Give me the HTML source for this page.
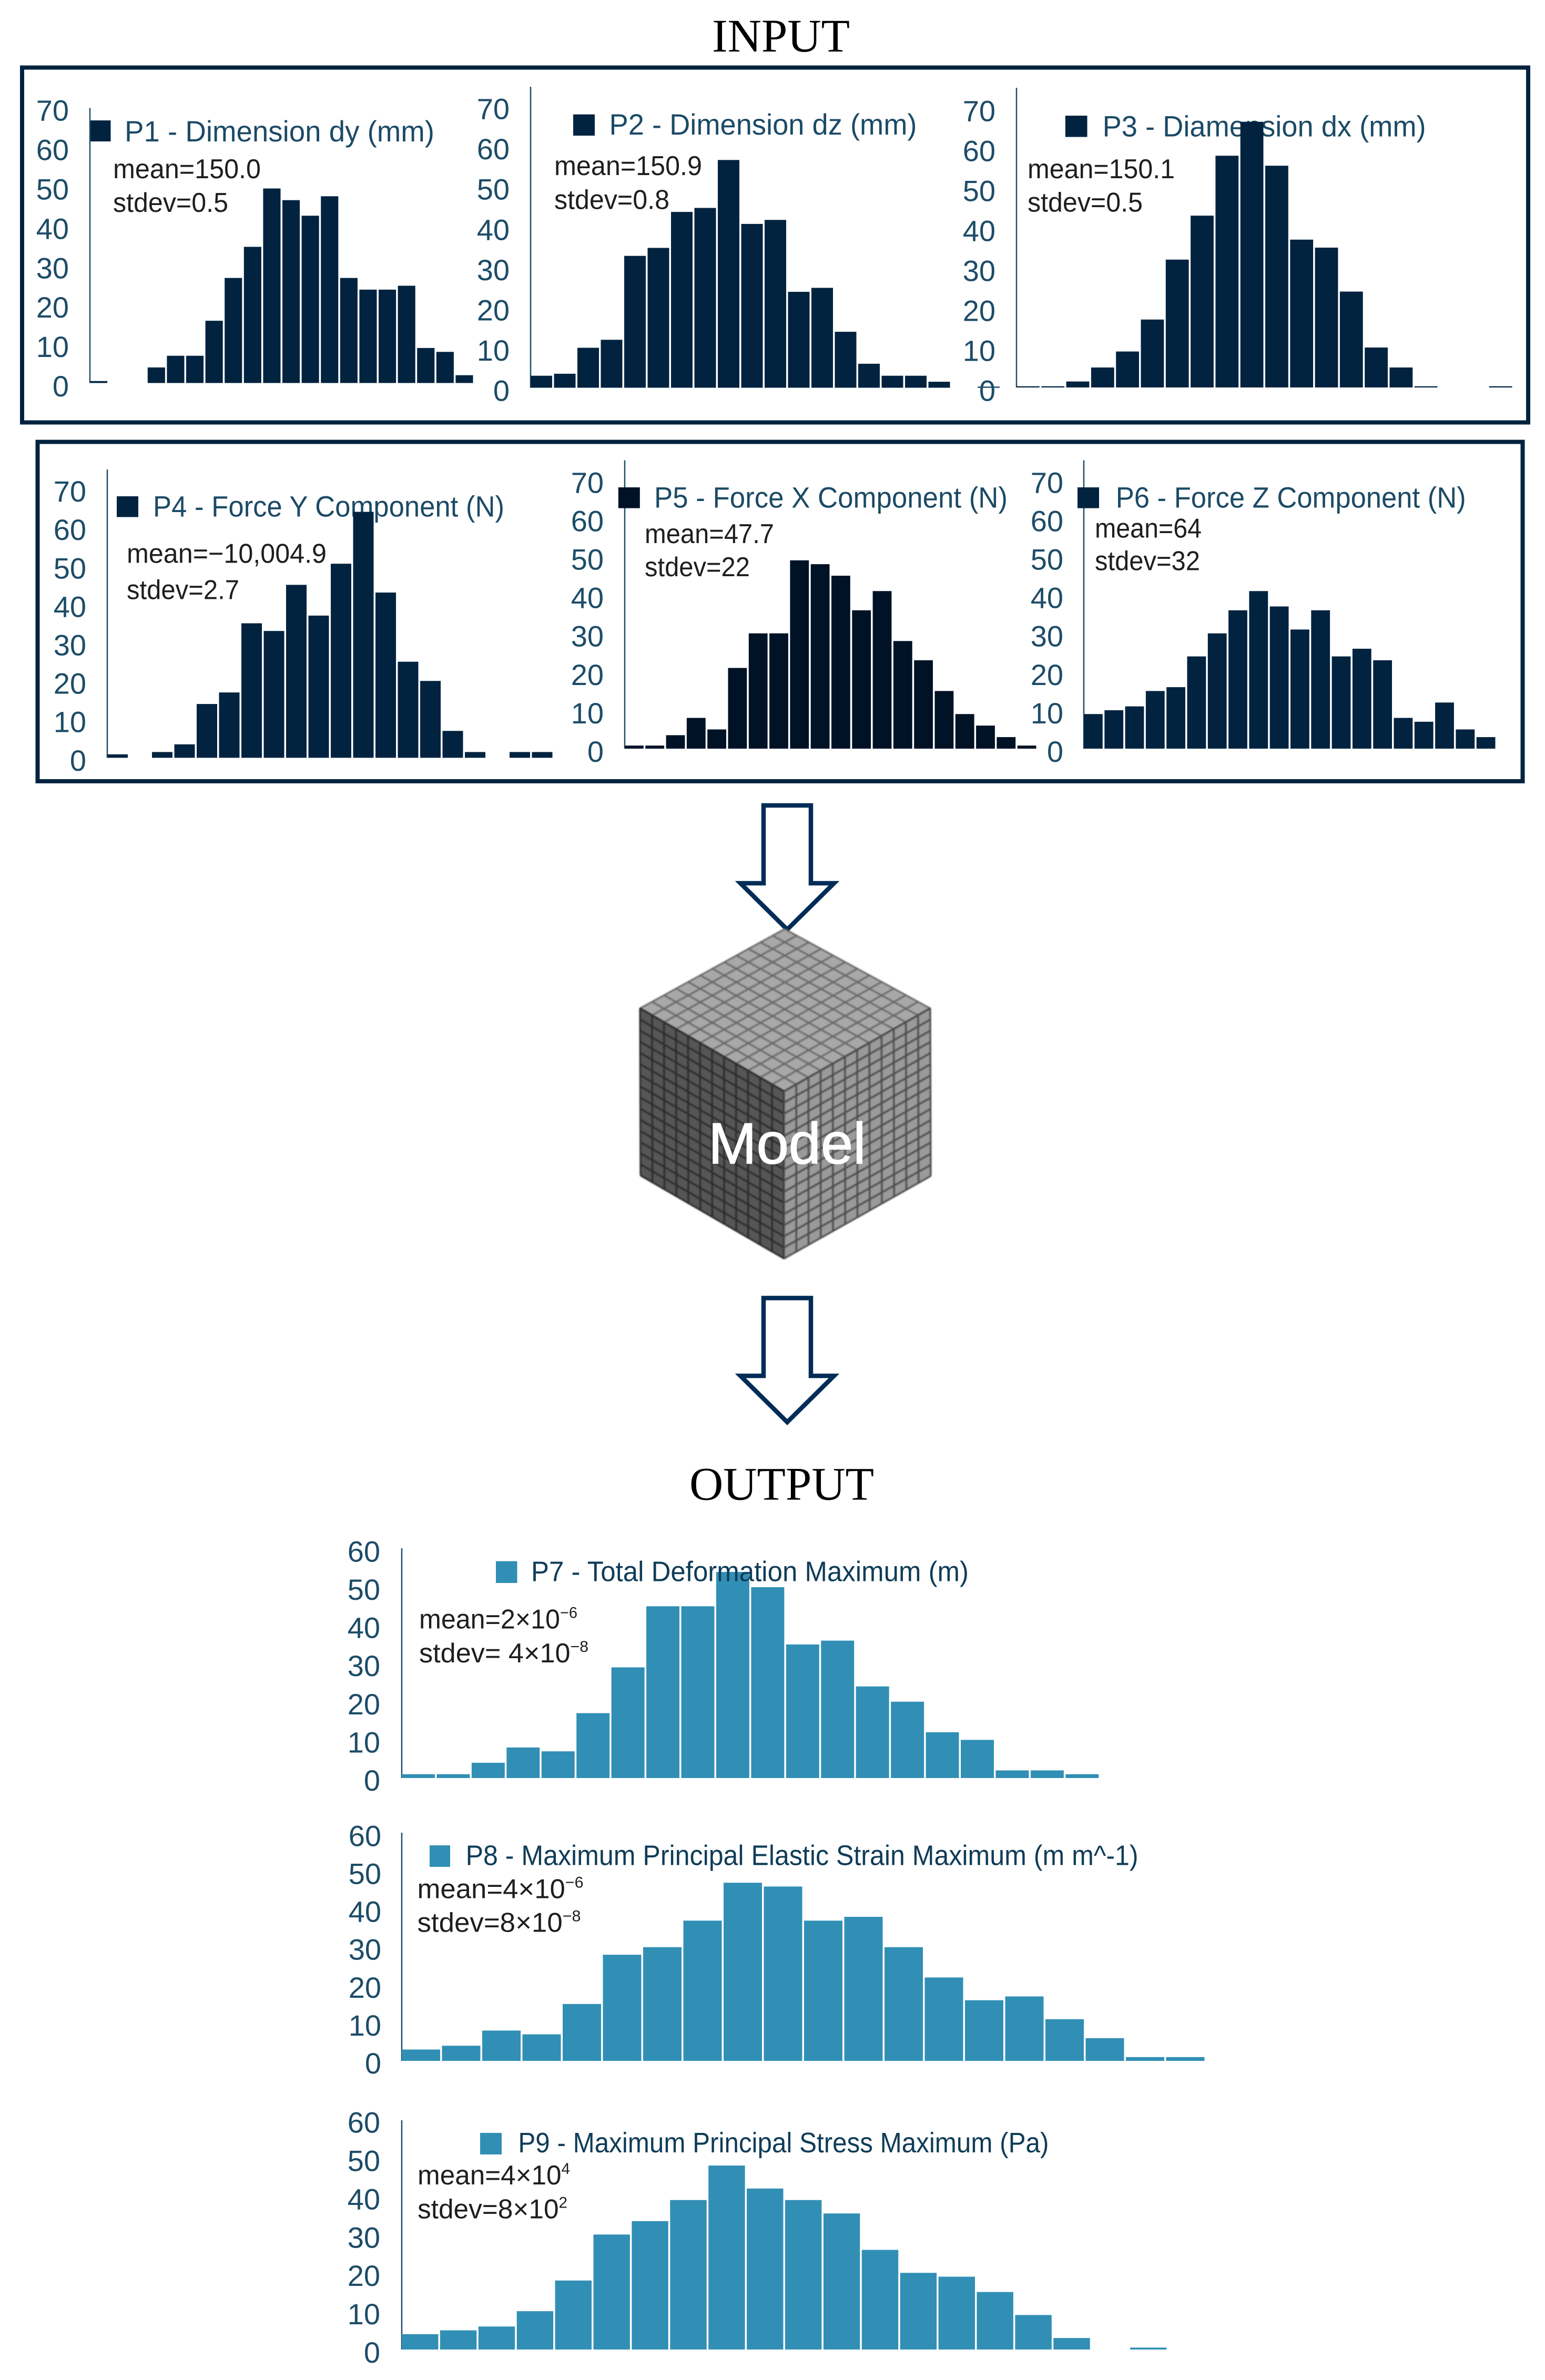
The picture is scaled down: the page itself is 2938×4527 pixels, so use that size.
<!DOCTYPE html>
<html lang="en">
<head>
<meta charset="utf-8">
<title>Input – Model – Output histograms</title>
<style>
html,body{margin:0;padding:0;background:#fff}
svg{display:block}
.head{font-family:"Liberation Serif",serif;font-size:89px;fill:#000}
.leg{font-family:"Liberation Sans",sans-serif;font-size:56px;fill:#1b4a66}
.legb{font-family:"Liberation Sans",sans-serif;font-size:54px;fill:#0f3c58}
.stat{font-family:"Liberation Sans",sans-serif;font-size:52px;fill:#1e1e1e}
.tick{font-family:"Liberation Sans",sans-serif;font-size:56px;fill:#1d4c68;text-anchor:end}
</style>
</head>
<body>
<svg id="fig" xmlns="http://www.w3.org/2000/svg" width="2938" height="4527" viewBox="0 0 2938 4527">
<rect x="0" y="0" width="2938" height="4527" fill="#fff"/>

<text class="head" x="1354" y="98">INPUT</text>
<rect x="42" y="128.5" width="2864" height="675" fill="none" stroke="#02233f" stroke-width="8"/>
<rect x="71.5" y="840.5" width="2824" height="645.5" fill="none" stroke="#02233f" stroke-width="8"/>

<g id="chart-p1">
  <rect x="171" y="229" width="39.5" height="40" fill="#02233f"/>
  <text class="leg" x="237" y="269" textLength="589" lengthAdjust="spacingAndGlyphs">P1 - Dimension dy (mm)</text>
  <text class="stat" x="215" y="339" textLength="281" lengthAdjust="spacingAndGlyphs">mean=150.0</text>
  <text class="stat" x="215" y="403" textLength="219" lengthAdjust="spacingAndGlyphs">stdev=0.5</text>
</g>
<g id="chart-p2">
  <rect x="1090" y="217.6" width="41" height="40.4" fill="#02233f"/>
  <text class="leg" x="1158.5" y="256" textLength="585" lengthAdjust="spacingAndGlyphs">P2 - Dimension dz (mm)</text>
  <text class="stat" x="1054" y="333" textLength="281" lengthAdjust="spacingAndGlyphs">mean=150.9</text>
  <text class="stat" x="1054" y="397.5" textLength="219" lengthAdjust="spacingAndGlyphs">stdev=0.8</text>
</g>
<g id="chart-p3">
  <rect x="2025.8" y="220" width="41.7" height="40.5" fill="#02233f"/>
  <text class="leg" x="2096.6" y="259.4" textLength="615" lengthAdjust="spacingAndGlyphs">P3 - Diamension dx (mm)</text>
  <text class="stat" x="1954" y="339" textLength="280" lengthAdjust="spacingAndGlyphs">mean=150.1</text>
  <text class="stat" x="1954" y="402.7" textLength="219" lengthAdjust="spacingAndGlyphs">stdev=0.5</text>
</g>
<g id="chart-p4">
  <rect x="222" y="944" width="41" height="39.5" fill="#02233f"/>
  <text class="leg" x="291" y="982.6" textLength="668" lengthAdjust="spacingAndGlyphs">P4 - Force Y Component (N)</text>
  <text class="stat" x="241" y="1070.6" textLength="380" lengthAdjust="spacingAndGlyphs">mean=−10,004.9</text>
  <text class="stat" x="241" y="1139.6" textLength="214" lengthAdjust="spacingAndGlyphs">stdev=2.7</text>
</g>
<g id="chart-p5">
  <text class="leg" x="1244" y="965.7" textLength="672" lengthAdjust="spacingAndGlyphs">P5 - Force X Component (N)</text>
  <text class="stat" x="1226" y="1033" textLength="246" lengthAdjust="spacingAndGlyphs">mean=47.7</text>
  <text class="stat" x="1226" y="1096" textLength="200" lengthAdjust="spacingAndGlyphs">stdev=22</text>
</g>
<g id="chart-p6">
  <text class="leg" x="2121.7" y="965.7" textLength="666" lengthAdjust="spacingAndGlyphs">P6 - Force Z Component (N)</text>
  <text class="stat" x="2082" y="1022.5" textLength="203" lengthAdjust="spacingAndGlyphs">mean=64</text>
  <text class="stat" x="2082" y="1084.5" textLength="200" lengthAdjust="spacingAndGlyphs">stdev=32</text>
</g>

<polygon points="1452,1532 1542,1532 1542,1680 1586,1680 1497,1768 1408,1680 1452,1680" fill="#fff" stroke="#012c57" stroke-width="8.5" stroke-miterlimit="10"/>
<g id="cube"></g>
<text x="1347" y="2213" font-family="'Liberation Sans',sans-serif" font-size="110" fill="#fff" stroke="#fff" stroke-width="1.5">Model</text>
<polygon points="1452,2469 1542,2469 1542,2617 1586,2617 1497,2705 1408,2617 1452,2617" fill="#fff" stroke="#012c57" stroke-width="8.5" stroke-miterlimit="10"/>

<text class="head" x="1311" y="2852.5">OUTPUT</text>

<g id="chart-p7"></g>
<g>
  <rect x="943" y="2969.5" width="40.5" height="41.5" fill="#318fb5"/>
  <text class="legb" x="1010" y="3007.4" textLength="832" lengthAdjust="spacingAndGlyphs">P7 - Total Deformation Maximum (m)</text>
  <text class="stat" x="797" y="3097.6" textLength="301" lengthAdjust="spacingAndGlyphs">mean=2×10<tspan dy="-20" font-size="30">−6</tspan></text>
  <text class="stat" x="797" y="3162" textLength="322" lengthAdjust="spacingAndGlyphs">stdev= 4×10<tspan dy="-20" font-size="30">−8</tspan></text>
</g>
<g id="chart-p8"></g>
<g>
  <rect x="817" y="3510" width="39" height="41" fill="#318fb5"/>
  <text class="legb" x="885.6" y="3547.7" textLength="1279" lengthAdjust="spacingAndGlyphs">P8 - Maximum Principal Elastic Strain Maximum (m m^-1)</text>
  <text class="stat" x="793.5" y="3610.7" textLength="316" lengthAdjust="spacingAndGlyphs">mean=4×10<tspan dy="-20" font-size="30">−6</tspan></text>
  <text class="stat" x="793.5" y="3674.7" textLength="311" lengthAdjust="spacingAndGlyphs">stdev=8×10<tspan dy="-20" font-size="30">−8</tspan></text>
</g>
<g id="chart-p9"></g>
<g>
  <rect x="913" y="4057" width="41" height="41" fill="#318fb5"/>
  <text class="legb" x="985.4" y="4093.8" textLength="1009" lengthAdjust="spacingAndGlyphs">P9 - Maximum Principal Stress Maximum (Pa)</text>
  <text class="stat" x="794" y="4155" textLength="290" lengthAdjust="spacingAndGlyphs">mean=4×10<tspan dy="-20" font-size="30">4</tspan></text>
  <text class="stat" x="794" y="4219.7" textLength="285" lengthAdjust="spacingAndGlyphs">stdev=8×10<tspan dy="-20" font-size="30">2</tspan></text>
</g>
</svg>

<script>
var inputTicks = ["0","10","20","30","40","50","60","70"];
var outputTicks = ["0","10","20","30","40","50","60"];
var p1Counts = [0.5,0,0,4,7,7,16,27,35,50,47,43,48,27,24,24,25,9,8,2];
var p2Counts = [3,3.5,10,12,33,35,44,45,57,41,42,24,25,14,6,3,3,1.5];
var p3Counts = [0.3,0.3,1.5,5,9,17,32,43,58,66.5,55.5,37,35,24,10,5,0.3,0,0,0.3];
var p4Counts = [0.9,0,1.5,3.5,14,17,35,33,45,37,50.5,64,43,25,20,7,1.5,0,1.5,1.5];
var p5Counts = [0.8,0.8,3.5,8,5,21,30,30,49,48,45,36,41,28,23,15,9,6,3,0.8];
var p6Counts = [9,10,11,15,16,24,30,36,41,37,31,36,24,26,23,8,7,12,5,3];
var p7Counts = [1,1,4,8,7,17,29,45,45,54,50,35,36,24,20,12,10,2,2,1];
var p8Counts = [3,4,8,7,15,28,30,37,47,46,37,38,30,22,16,17,11,6,1,1];
var p9Counts = [4,5,6,10,18,30,33.5,39,48,42,39,35.5,26,20,19,15,9,3,0,0.5];

var NS = "http://www.w3.org/2000/svg";
var DARK = "#02233f", DARKER = "#001226", TEAL = "#318fb5";

function shape(tag, attrs) {
  var el = document.createElementNS(NS, tag);
  for (var k in attrs) el.setAttribute(k, attrs[k]);
  return el;
}

function drawHistogram(id, counts, ticks, g) {
  var host = document.getElementById(id);
  function xScale(i) { return g.x0 + i * g.pitch; }
  function yScale(v) { return g.y0 - v * g.unit; }
  function tickY(v) { return g.tick0 - v * g.tickUnit; }

  ticks.forEach(function (label) {
    var t = shape("text", { "class": "tick", x: g.right, y: tickY(Number(label)) + 20 });
    
    
    t.textContent = label;
    host.appendChild(t);
  });

  var axis = shape("line", { x1: g.x0, x2: g.x0, y1: g.top, y2: g.y0, stroke: "#1f4e6b", "stroke-width": 2.5 });
  
  
  host.appendChild(axis);

  counts.forEach(function (v, i) {
    if (v <= 0) return;
    var bar = shape("rect", {
      x: xScale(i), y: yScale(v),
      width: g.pitch - 3.5, height: g.y0 - yScale(v), fill: g.color
    });
    
    
    host.appendChild(bar);
  });
}

drawHistogram("chart-p1", p1Counts, inputTicks, {x0:171, pitch:36.6, y0:728.5, unit:7.4, top:205.5, right:131, tick0:734, tickUnit:7.49, color:DARK});
drawHistogram("chart-p2", p2Counts, inputTicks, {x0:1009, pitch:44.5, y0:737.5, unit:7.6, top:165, right:969, tick0:742.7, tickUnit:7.66, color:DARK});
drawHistogram("chart-p3", p3Counts, inputTicks, {x0:1933, pitch:47.3, y0:737, unit:7.6, top:167, right:1893, tick0:742.7, tickUnit:7.6, color:DARK});
drawHistogram("chart-p4", p4Counts, inputTicks, {x0:204, pitch:42.5, y0:1441.4, unit:7.31, top:893, right:164, tick0:1445.8, tickUnit:7.31, color:DARK});
drawHistogram("chart-p5", p5Counts, inputTicks, {x0:1188, pitch:39.3, y0:1424, unit:7.31, top:875.5, right:1148, tick0:1429, tickUnit:7.31, color:DARKER});
drawHistogram("chart-p6", p6Counts, inputTicks, {x0:2061, pitch:39.3, y0:1424, unit:7.31, top:875.5, right:2022, tick0:1429, tickUnit:7.31, color:DARK});
drawHistogram("chart-p7", p7Counts, outputTicks, {x0:764, pitch:66.44, y0:3382, unit:7.26, top:2945, right:723, tick0:3386, tickUnit:7.26, color:TEAL});
drawHistogram("chart-p8", p8Counts, outputTicks, {x0:764, pitch:76.5, y0:3920, unit:7.21, top:3486, right:725, tick0:3924, tickUnit:7.21, color:TEAL});
drawHistogram("chart-p9", p9Counts, outputTicks, {x0:764, pitch:72.9, y0:4469, unit:7.29, top:4033, right:723, tick0:4474, tickUnit:7.29, color:TEAL});

/* legend swatches of P5 and P6 sit on top of their axes */
(function () {
  var s5 = shape("rect", { x: 1175.8, y: 927, width: 41, height: 39.6, fill: DARKER });
  
  
  document.getElementById("chart-p5").appendChild(s5);
  var s6 = shape("rect", { x: 2049, y: 927, width: 41, height: 39.6, fill: DARK });
  
  
  document.getElementById("chart-p6").appendChild(s6);
  var stub = shape("line", { x1: 1859, x2: 1901, y1: 736.5, y2: 736.5, stroke: "#1f4e6b", "stroke-width": 2.5 });
  
  
  document.getElementById("chart-p3").appendChild(stub);
})();

/* cube mesh */
(function () {
  var cube = document.getElementById("cube");
  function lerp(a, b, t) { return [a[0] + (b[0] - a[0]) * t, a[1] + (b[1] - a[1]) * t]; }
  function face(name, p, q, r, s, nu, nv, fill, line, w) {
    var poly = shape("polygon", { points: [p, q, r, s].join(" "), fill: fill });
    
    
    cube.appendChild(poly);
    var d = "";
    var i, a, b;
    for (i = 0; i <= nu; i++) {
      a = lerp(p, q, i / nu); b = lerp(s, r, i / nu);
      d += "M" + a + "L" + b;
    }
    for (i = 0; i <= nv; i++) {
      a = lerp(p, s, i / nv); b = lerp(q, r, i / nv);
      d += "M" + a + "L" + b;
    }
    var mesh = shape("path", { d: d, fill: "none", stroke: line, "stroke-width": w, style: "filter:blur(1.2px)" });
    
    
    cube.appendChild(mesh);
  }
  var apex = [1492, 1767], right = [1769, 1918], front = [1491, 2076], left = [1217, 1918];
  var bottom = [1491, 2394], leftB = [1218, 2236], rightB = [1770, 2237];
  face("cube-top-face", apex, right, front, left, 12, 12, "#a8a8a8", "#666666", 3);
  face("cube-left-face", left, front, bottom, leftB, 12, 15, "#565656", "#2b2b2b", 3.2);
  face("cube-right-face", front, right, rightB, bottom, 12, 15, "#9a9a9a", "#4a4a4a", 3.2);
})();
</script>
</body>
</html>
